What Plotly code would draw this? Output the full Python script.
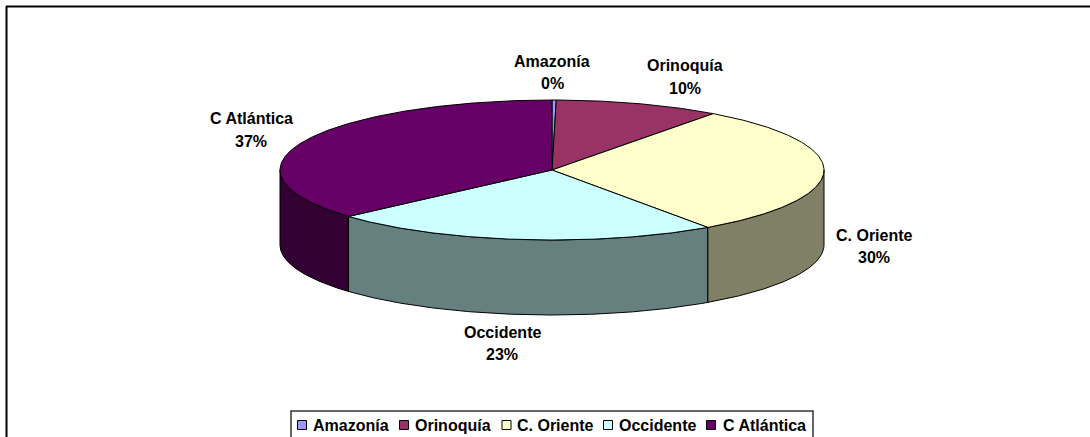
import numpy as np
import plotly.graph_objects as go

# Data
categories = ["Amazonía", "Orinoquía", "C. Oriente", "Occidente", "C Atlántica"]
values = [0.25, 9.85, 30.2, 23.15, 36.55]
top_colors = ["#9999FF", "#993366", "#FFFFCC", "#CCFFFF", "#660066"]
side_colors = ["#4C4C80", "#4C1933", "#808066", "#668080", "#330033"]

# Layout of the tilted pie, in canvas units
W, H = 1090, 437
CX, CY, RX, RY, DEPTH = 552, 170, 272, 70, 75
FONT = "Liberation Sans, Arial, sans-serif"
LABEL_POS = [(552, 61, 83), (685, 65, 88), (874, 235, 257), (502, 332, 354), (251, 118, 141)]
LEGEND_MARK = [302, 404, 506.5, 608, 711]
LEGEND_TEXT = [312, 414, 516, 618, 722]
LEGEND_BOX = (291, 411, 813, 440)
LEGEND_Y = 425


def edge(a0, a1):
    t = np.radians(np.linspace(a0, a1, max(int(abs(a1 - a0) * 2), 2)))
    return CX + RX * np.sin(t), CY - RY * np.cos(t)


fracs = np.array(values) / sum(values)
ends = np.cumsum(fracs) * 360
starts = ends - fracs * 360

fig = go.Figure()

# Side walls: only the part of each slice's rim that faces the viewer
for name, a0, a1, col in zip(categories, starts, ends, side_colors):
    lo, hi = max(a0, 90), min(a1, 270)
    if hi <= lo:
        continue
    x, y = edge(lo, hi)
    fig.add_trace(go.Scatter(
        x=np.r_[x, x[::-1], x[0]], y=np.r_[y, y[::-1] + DEPTH, y[0]],
        mode="lines", fill="toself", fillcolor=col,
        line=dict(color="#000000", width=1), name=name,
        showlegend=False, hoverinfo="skip"))

# Top faces
for name, a0, a1, col, v in zip(categories, starts, ends, top_colors, values):
    x, y = edge(a0, a1)
    fig.add_trace(go.Scatter(
        x=np.r_[CX, x, CX], y=np.r_[CY, y, CY],
        mode="lines", fill="toself", fillcolor=col,
        line=dict(color="#000000", width=1), name=name,
        showlegend=False, hoverinfo="text", text=f"{name}: {v:.0f}%"))

# Legend swatches
fig.add_trace(go.Scatter(
    x=LEGEND_MARK, y=[LEGEND_Y] * len(categories), mode="markers",
    marker=dict(symbol="square", size=9, color=top_colors, line=dict(color="#000000", width=1)),
    showlegend=False, hoverinfo="skip"))

annotations = []


def note(text, x, y, anchor="center", size=16):
    annotations.append(dict(
        x=x, y=y, xref="x", yref="y", text=f"<b>{text}</b>", showarrow=False,
        xanchor=anchor, yanchor="middle", xshift=-1 if anchor == "left" else 0,
        font=dict(family=FONT, size=size, color="#000000")))


for name, f, (lx, y1, y2) in zip(categories, fracs, LABEL_POS):
    note(name, lx, y1)
    note(f"{round(f * 100):d}%", lx, y2)
for name, x in zip(categories, LEGEND_TEXT):
    note(name, x, LEGEND_Y, anchor="left")

shapes = [
    dict(type="line", x0=6.5, x1=6.5, y0=6, y1=H, line=dict(color="#000000", width=2), layer="below"),
    dict(type="line", x0=6, x1=W, y0=6.5, y1=6.5, line=dict(color="#000000", width=2), layer="below"),
    dict(type="rect", x0=LEGEND_BOX[0], y0=LEGEND_BOX[1], x1=LEGEND_BOX[2], y1=LEGEND_BOX[3],
         line=dict(color="#333333", width=1.5), fillcolor="#FFFFFF", layer="below"),
]

fig.update_layout(
    width=W, height=H, margin=dict(l=0, r=0, t=0, b=0),
    paper_bgcolor="#FFFFFF", plot_bgcolor="#FFFFFF", showlegend=False,
    xaxis=dict(range=[0, W], visible=False, fixedrange=True),
    yaxis=dict(range=[H, 0], visible=False, fixedrange=True),
    annotations=annotations, shapes=shapes,
)

fig.write_html(
    "out.html",
    config={"displayModeBar": False},
    post_script="document.body.style.margin='0';document.body.style.overflow='hidden';",
)
